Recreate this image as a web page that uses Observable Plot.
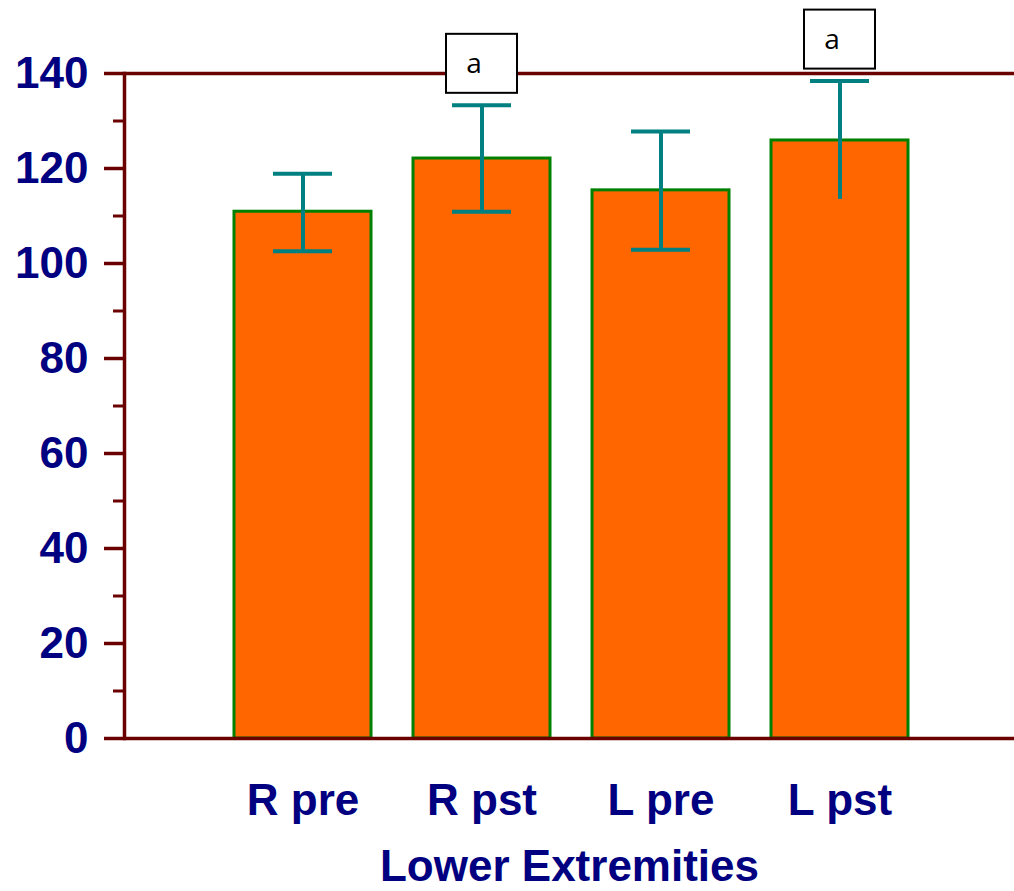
<!DOCTYPE html>
<html>
<head>
<meta charset="utf-8">
<script src="https://cdn.jsdelivr.net/npm/d3@7"></script>
<script src="https://cdn.jsdelivr.net/npm/@observablehq/plot@0.6"></script>
<style>
  html, body { margin: 0; padding: 0; background: #ffffff; }
</style>
</head>
<body>
<div id="chart"></div>
<script>
const categories = ["R pre", "R pst", "L pre", "L pst"];
const means = [110.9, 122.1, 115.4, 125.9];
const upper = [118.9, 133.3, 127.8, 138.4];
const lower = [102.6, 110.9, 102.9, 113.5];
const lowerCap = [true, true, true, false];
const sigLetters = ["", "a", "", "a"];
const majorTicks = [0, 20, 40, 60, 80, 100, 120, 140];
const minorTicks = [10, 30, 50, 70, 90, 110, 130];
const xTitle = "Lower Extremities";

const data = categories.map((c, i) => ({
  cat: c, mean: means[i], hi: upper[i], lo: lower[i], cap: lowerCap[i], sig: sigLetters[i]
}));

const axisColor = "#6b0000";
const textColor = "#000080";
const font = "'Liberation Sans', Arial, sans-serif";

const chart = Plot.plot({
  width: 1014,
  height: 891,
  marginLeft: 124,
  marginRight: 0,
  marginTop: 73,
  marginBottom: 153,
  style: { fontFamily: font, background: "#ffffff", overflow: "visible" },
  x: { type: "band", domain: categories, paddingInner: 0.232, paddingOuter: 0.593, align: 0.51 },
  y: { domain: [0, 140] },
  marks: [
    Plot.barY(data, { x: "cat", y: "mean", fill: "#ff6600", stroke: "#008000", strokeWidth: 3 }),
    Plot.ruleX(data, { x: "cat", y1: "lo", y2: "hi", stroke: "#008080", strokeWidth: 4 }),
    Plot.tickY(data, { x: "cat", y: "hi", stroke: "#008080", strokeWidth: 4, insetLeft: 39, insetRight: 39 }),
    Plot.tickY(data.filter(d => d.cap), { x: "cat", y: "lo", stroke: "#008080", strokeWidth: 4, insetLeft: 39, insetRight: 39 }),
    Plot.ruleY([0, 140], { stroke: axisColor, strokeWidth: 3.5 }),
    Plot.frame({ anchor: "left", stroke: axisColor, strokeWidth: 3.5 }),
    Plot.axisY({ ticks: minorTicks, tickSize: 11, stroke: axisColor, strokeWidth: 3, tickFormat: () => "", label: null }),
    Plot.axisY({ ticks: majorTicks, tickSize: 20, tickPadding: 16, stroke: axisColor, strokeWidth: 3.5,
                 fill: textColor, fontSize: 44, fontWeight: "bold", label: null }),
    Plot.axisX({ tickSize: 0, tickPadding: 45, fill: textColor, fontSize: 44, fontWeight: "bold",
                 label: xTitle, labelAnchor: "center", labelOffset: 142 }),
    Plot.rect(data.filter(d => d.sig), { x: "cat", y1: "hi", y2: "hi", fill: "#ffffff", stroke: "#000000",
                 strokeWidth: 2, insetLeft: 33, insetRight: 33, insetTop: -71, insetBottom: 12 }),
    Plot.text(data.filter(d => d.sig), { x: "cat", y: "hi", text: "sig", dy: -41, dx: -8, fontSize: 28,
                 fontFamily: "'Open Sans', sans-serif", fill: "#000000" })
  ]
});

document.getElementById("chart").appendChild(chart);
</script>
</body>
</html>
